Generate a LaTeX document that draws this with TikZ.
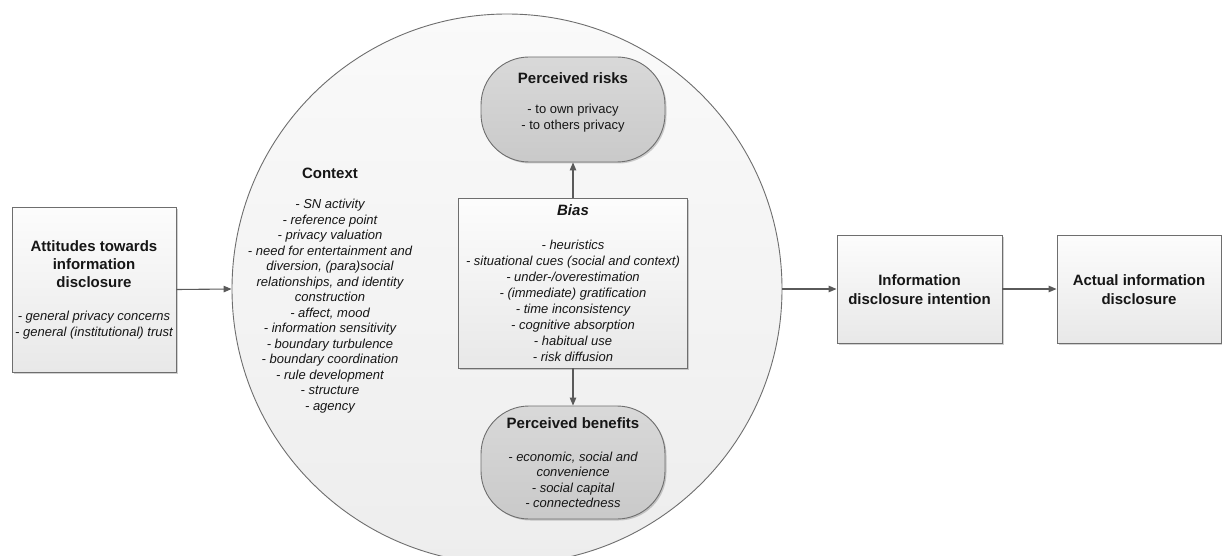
\documentclass[tikz,border=0pt]{standalone}
\usepackage{fontspec}
\setmainfont{Liberation Sans}
\usetikzlibrary{arrows.meta,shadows,calc}
\definecolor{edgegray}{HTML}{6E6E6E}
\definecolor{txtgray}{HTML}{161616}
\definecolor{arrgray}{HTML}{5A5A5A}
\tikzset{
  shadowed/.style={drop shadow={shadow xshift=1.5pt,shadow yshift=-1.5pt,fill=black,opacity=0.18}},
  plainbox/.style={draw=edgegray,line width=0.9pt,inner sep=0pt,
    top color=white!99!black,bottom color=white!91!black,shadowed},
  roundbox/.style={draw=edgegray,line width=0.9pt,inner sep=0pt,rounded corners=48pt,
    top color=white!85!black,bottom color=white!79!black,shadowed},
  ctxcircle/.style={circle,draw=edgegray,line width=0.9pt,inner sep=0pt,minimum size=550pt,
    top color=white!98!black,bottom color=white!93!black},
  titletext/.style={font=\bfseries\fontsize{15}{18}\selectfont,align=center,text=txtgray,inner sep=0pt},
  itemtext/.style={font=\itshape\fontsize{13}{16}\selectfont,align=center,text=txtgray,inner sep=0pt},
  itemtextr/.style={font=\fontsize{13}{16}\selectfont,align=center,text=txtgray,inner sep=0pt},
  arr/.style={draw=arrgray,line width=1.1pt,-{Triangle[length=8pt,width=6.5pt]}}
}
\begin{document}
\begin{tikzpicture}[x=1pt,y=-1pt]
\useasboundingbox (0,0) rectangle (1222,556);
\clip (0,0) rectangle (1222,556);
% context circle
\node[ctxcircle] (ctx) at (507,289) {};
% boxes
\node[plainbox,minimum width=164pt,minimum height=165pt] (att) at (94,289.5) {};
\node[plainbox,minimum width=165pt,minimum height=108pt] (int) at (919.5,289) {};
\node[plainbox,minimum width=164pt,minimum height=108pt] (act) at (1139,289) {};
\node[roundbox,minimum width=184pt,minimum height=105pt] (risk) at (573,109.5) {};
\node[plainbox,minimum width=229pt,minimum height=170pt] (bias) at (573,283) {};
\node[roundbox,minimum width=184pt,minimum height=113pt] (ben) at (573,462.5) {};
% texts
\node[titletext] (attT) at (94,264.5) {Attitudes towards\\information\\disclosure};
\node[itemtext] (attI) at (94,325.5) {- general privacy concerns\\- general (institutional) trust};
\node[titletext,font=\bfseries\fontsize{15}{19}\selectfont] (intT) at (919.5,289.5) {Information\\disclosure intention};
\node[titletext,font=\bfseries\fontsize{15}{19}\selectfont] (actT) at (1139,289.5) {Actual information\\disclosure};
\node[titletext] (ctxT) at (330,173) {Context};
\node[itemtext,font=\itshape\fontsize{13}{15.5}\selectfont] (ctxI) at (330,306) {- SN activity\\- reference point\\- privacy valuation\\- need for entertainment and\\diversion, (para)social\\relationships, and identity\\construction\\- affect, mood\\- information sensitivity\\- boundary turbulence\\- boundary coordination\\- rule development\\- structure\\- agency};
\node[titletext] (riskT) at (573,78) {Perceived risks};
\node[itemtextr] (riskI) at (573,118) {- to own privacy\\- to others privacy};
\node[titletext,font=\bfseries\itshape\fontsize{15}{18}\selectfont] (biasT) at (573,210) {Bias};
\node[itemtext] (biasI) at (573,301) {- heuristics\\- situational cues (social and context)\\- under-/overestimation\\- (immediate) gratification\\- time inconsistency\\- cognitive absorption\\- habitual use\\- risk diffusion};
\node[titletext] (benT) at (573,423) {Perceived benefits};
\node[itemtext,font=\itshape\fontsize{13}{15.5}\selectfont] (benI) at (573,480) {- economic, social and\\convenience\\- social capital\\- connectedness};
% connectors
\draw[arr] (att.east) -- (ctx.west);
\draw[arr] (ctx.east) -- (int.west);
\draw[arr] (int.east) -- (act.west);
\draw[arr] (bias.north) -- (risk.south);
\draw[arr] (bias.south) -- (ben.north);
\end{tikzpicture}
\end{document}
